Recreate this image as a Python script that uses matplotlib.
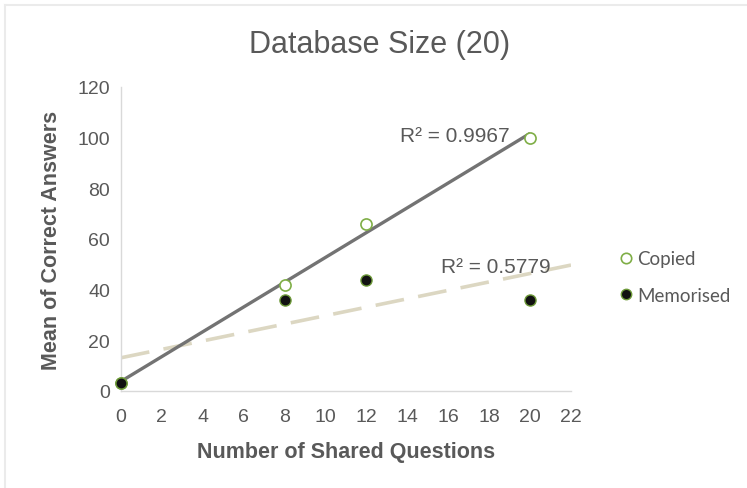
import numpy as np
import matplotlib
matplotlib.use("Agg")
import matplotlib.pyplot as plt
from matplotlib.lines import Line2D

# Data
shared_questions = [0, 8, 12, 20]
copied = [3, 42, 66, 100]
memorised = [3, 36, 44, 36]
r2_copied_label = "R² = 0.9967"
r2_memorised_label = "R² = 0.5779"
x_ticks = list(range(0, 24, 2))
y_ticks = list(range(0, 140, 20))

fam = ["Liberation Sans", "DejaVu Sans"]
txt_col = "#595959"

fig = plt.figure(figsize=(7.47, 4.89), dpi=100)
ax = fig.add_axes([121/747, 1-392/489, 450/747, 304/489])

# trendlines (least-squares fits of the data)
x = np.array(shared_questions, float)
pc = np.polyfit(x, copied, 1)
pm = np.polyfit(x, memorised, 1)
xc = np.array([0, 20])
xm = np.array([0, 22])
ax.plot(xc, np.polyval(pc, xc), color="#737373", lw=2.4, zorder=2, solid_capstyle="butt")
ax.plot(xm, np.polyval(pm, xm), color="#DCD7C2", lw=2.6, ls=(0, (8, 4)), zorder=1)

# points
ax.scatter(shared_questions, copied, s=64, facecolor="white", edgecolor="#7FAE46", linewidth=1.2, zorder=3, clip_on=False)
ax.scatter(shared_questions, memorised, s=64, facecolor="#111111", edgecolor="#6E9A3A", linewidth=1.0, zorder=4, clip_on=False)

ax.text(13.64, 101, r2_copied_label, fontsize=15, color=txt_col, family=fam, ha="left", va="center")
ax.text(15.65, 49.3, r2_memorised_label, fontsize=15, color=txt_col, family=fam, ha="left", va="center")

ax.set_xlim(0, 22)
ax.set_ylim(0, 120)
ax.set_xticks(x_ticks)
ax.set_yticks(y_ticks)
for s in ["top", "right"]:
    ax.spines[s].set_visible(False)
for s in ["left", "bottom"]:
    ax.spines[s].set_color("#D9D9D9")
    ax.spines[s].set_linewidth(1.0)
ax.tick_params(length=0, labelsize=14, labelcolor=txt_col)
ax.tick_params(axis="x", pad=12)
ax.tick_params(axis="y", pad=8)
for lab in ax.get_xticklabels() + ax.get_yticklabels():
    lab.set_family(fam)

ax.set_xlabel("Number of Shared Questions", fontsize=15.5, color=txt_col, family=fam,
              fontweight="bold", labelpad=12)
ax.set_ylabel("Mean of Correct Answers", fontsize=15.5, color=txt_col, family=fam,
              fontweight="bold", labelpad=11)
fig.text(380/747, 1-45/489, "Database Size (20)", fontsize=22, color=txt_col, family=fam,
         ha="center", va="center")

# legend
handles = [
    Line2D([], [], marker="o", ls="none", markersize=7.5, markerfacecolor="white",
           markeredgecolor="#7FAE46", markeredgewidth=1.2),
    Line2D([], [], marker="o", ls="none", markersize=7.5, markerfacecolor="#111111",
           markeredgecolor="#6E9A3A", markeredgewidth=1.0),
]
leg = fig.legend(handles, ["Copied", "Memorised"], loc="center left",
                 bbox_to_anchor=(598/747, 1-278/489), frameon=False,
                 handletextpad=0.0, handlelength=1.2, labelspacing=1.05,
                 prop={"family": ["Lato", "DejaVu Sans"], "size": 13.5})
for t in leg.get_texts():
    t.set_color(txt_col)

# outer border lines (top and left)
fig.add_artist(Line2D([5/747, 1], [1-5.5/489, 1-5.5/489], color="#EBEBEB", lw=1.5, transform=fig.transFigure))
fig.add_artist(Line2D([5/747, 5/747], [0, 1-5.5/489], color="#EBEBEB", lw=1.5, transform=fig.transFigure))

fig.savefig("out.png", dpi=100, facecolor="white")
